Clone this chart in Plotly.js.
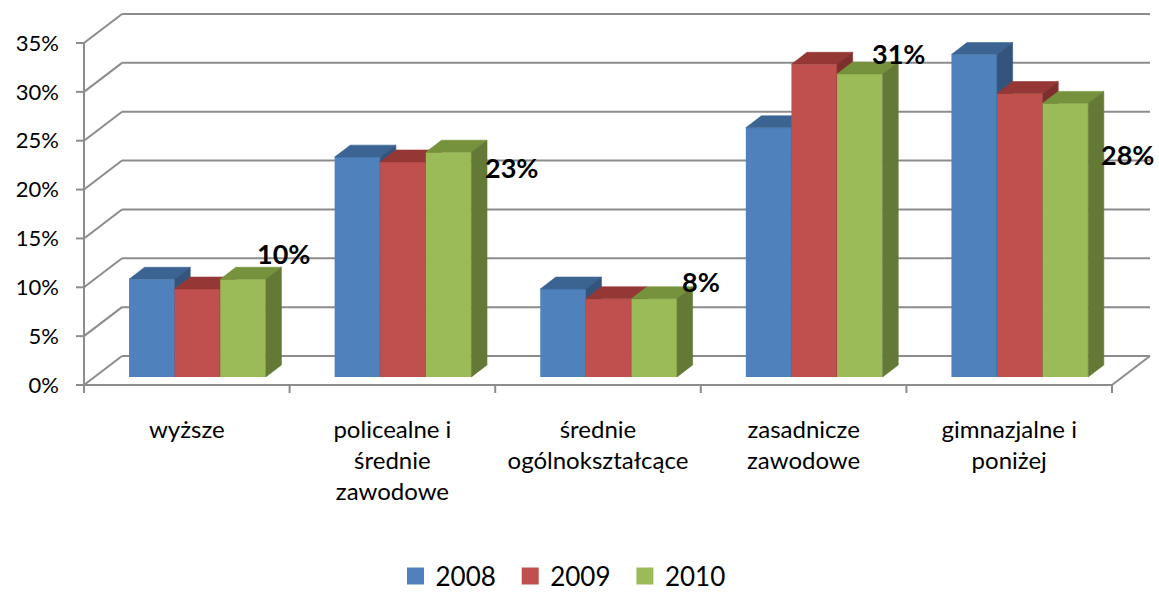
<!DOCTYPE html>
<html><head><meta charset="utf-8">
<script src="https://cdn.plot.ly/plotly-3.0.1.min.js"></script>
<style>html,body{margin:0;padding:0;background:#fff}</style>
</head><body><div id="chart" style="width:1159px;height:596px"></div>
<script>
// ---- data ----
const categories = ['wyższe', 'policealne i<br>średnie<br>zawodowe', 'średnie<br>ogólnokształcące', 'zasadnicze<br>zawodowe', 'gimnazjalne i<br>poniżej'];
const years = ['2008', '2009', '2010'];
const values2008 = [10, 22.5, 9, 25.5, 33];
const values2009 = [9, 22, 8, 32, 29];
const values2010 = [10, 23, 8, 31, 28];
const yTicks = [0, 5, 10, 15, 20, 25, 30, 35];

// ---- label placement (px offsets from the top back corner of the 2010 bar) ----
const labelDx = [2, 24, 8, 0, 24];
const labelDy = [14, -27, 5, 9, -63];

// ---- styles ----
const frontColors = ['#4F81BD', '#C0504D', '#9BBB59'];
const topColors = ['#3C6493', '#953735', '#76923C'];
const sideColors = ['#34547D', '#7E2F2D', '#657936'];
const gridColor = '#8C8C8C';
const FONT = 'Lato, "Open Sans", sans-serif';

// ---- geometry (px) ----
const W = 1159, H = 596;
const frontLeft = 84, frontRight = 1112, frontBottom = 385, front35 = 43;
const depthPx = [38, 29];
const ux = (frontRight - frontLeft) / categories.length;   // px per category unit
const uy = (frontBottom - front35) / 35;                   // px per percent
const DX = depthPx[0] / ux, DY = depthPx[1] / uy;
const barFrac0 = 0.28, barFracD = 0.41;
const fx = barFrac0 * DX, fy = barFrac0 * DY;
const bdx = barFracD * DX, bdy = barFracD * DY;
const barW = 45.6 / ux;
const padL = 10, padB = 10, padT = 3, padR = 3;
const xMin = -0.5, xMax = categories.length - 0.5;
const xr = [xMin - padL / ux, xMax + DX + padR / ux];
const yTop = yTicks[yTicks.length - 1];
const yr = [-padB / uy, yTop + DY + padT / uy];
const mL = frontLeft - padL;
const mR = W - (frontRight + depthPx[0] + padR);
const mB = H - (frontBottom + padB);
const mT = (frontBottom - yTop * uy - depthPx[1]) - padT;

const series = [values2008, values2009, values2010];
const traces = [];
series.forEach((vals, s) => {
  const xa = s === 0 ? 'x' : 'x' + (s + 1);
  const ya = s === 0 ? 'y' : 'y' + (s + 1);
  const xs = vals.map((v, i) => i + fx + (s - 1) * barW);
  traces.push({type: 'bar', x: xs, y: vals, base: fy, width: barW,
    marker: {color: frontColors[s], line: {width: 0}}, showlegend: false,
    hoverinfo: 'skip', xaxis: xa, yaxis: ya});
  const tx = [], ty = [], sx = [], sy = [];
  vals.forEach((v, i) => {
    const xl = xs[i] - barW / 2, xrr = xs[i] + barW / 2, T = fy + v, B = fy;
    tx.push(xl, xrr, xrr + bdx, xl + bdx, xl, null);
    ty.push(T, T, T + bdy, T + bdy, T, null);
    sx.push(xrr, xrr + bdx, xrr + bdx, xrr, xrr, null);
    sy.push(B, B + bdy, T + bdy, T, B, null);
  });
  traces.push({type: 'scatter', mode: 'lines', x: tx, y: ty, fill: 'toself',
    fillcolor: topColors[s], line: {width: 0.6, color: topColors[s]},
    showlegend: false, hoverinfo: 'skip', xaxis: xa, yaxis: ya});
  traces.push({type: 'scatter', mode: 'lines', x: sx, y: sy, fill: 'toself',
    fillcolor: sideColors[s], line: {width: 0.6, color: sideColors[s]},
    showlegend: false, hoverinfo: 'skip', xaxis: xa, yaxis: ya});
});
// legend entries
years.forEach((yName, s) => {
  traces.push({type: 'bar', x: [null], y: [null], name: yName,
    marker: {color: frontColors[s], line: {color: frontColors[s], width: 5}},
    hoverinfo: 'skip'});
});

// back wall / floor / axes as shapes
const shapes = [];
const ln = (x0, y0, x1, y1) => ({type: 'line', xref: 'x', yref: 'y', x0, y0, x1, y1,
  layer: 'below', line: {color: gridColor, width: 2}});
yTicks.forEach(v => {
  shapes.push(ln(xMin, v, xMin + DX, v + DY));
  shapes.push(ln(xMin + DX, v + DY, xMax + DX, v + DY));
  shapes.push(ln(xMin - 8 / ux, v, xMin, v));
});
shapes.push(ln(xMax, 0, xMax + DX, DY));
shapes.push(ln(xMin, 0, xMin, yTop));
shapes.push(ln(xMin, 0, xMax, 0));
for (let k = 0; k <= categories.length; k++) {
  shapes.push(ln(xMin + k, 0, xMin + k, -8 / uy));
}

// data labels on 2010 bars
const annotations = values2010.map((v, i) => ({
  xref: 'x', yref: 'y',
  x: i + fx + barW * 1.5 + bdx, y: fy + v + bdy,
  xshift: labelDx[i], yshift: labelDy[i],
  text: '<b>' + v + '%</b>', showarrow: false,
  xanchor: 'center', yanchor: 'middle',
  font: {family: FONT, size: 27, color: '#000'}
}));

const layout = {
  width: W, height: H, autosize: false,
  margin: {l: mL, r: mR, t: mT, b: mB, pad: 0, autoexpand: false},
  paper_bgcolor: '#fff', plot_bgcolor: 'rgba(0,0,0,0)',
  barmode: 'overlay',
  showlegend: true,
  legend: {orientation: 'h', xref: 'container', yref: 'container',
    xanchor: 'left', yanchor: 'middle',
    x: 395.5 / W, y: 1 - 576 / H,
    entrywidth: 69.7, font: {family: FONT, size: 26, color: '#000'},
    itemclick: false, itemdoubleclick: false, bgcolor: 'rgba(0,0,0,0)'},
  xaxis: {range: xr, tickmode: 'array', tickvals: categories.map((c, i) => i), ticktext: categories,
    ticks: '', showgrid: false, zeroline: false, showline: false, fixedrange: true, automargin: false,
    tickfont: {family: FONT, size: 24, color: '#000'}, ticklabelstandoff: 18, tickangle: 0},
  yaxis: {range: yr, tickmode: 'array', tickvals: yTicks, ticktext: yTicks.map(v => v + '%'),
    ticks: '', showgrid: false, zeroline: false, showline: false, fixedrange: true, automargin: false,
    tickfont: {family: FONT, size: 22, color: '#000'}, ticklabelstandoff: 14},
  xaxis2: {overlaying: 'x', range: xr, visible: false, fixedrange: true},
  yaxis2: {overlaying: 'y', range: yr, visible: false, fixedrange: true},
  xaxis3: {overlaying: 'x', range: xr, visible: false, fixedrange: true},
  yaxis3: {overlaying: 'y', range: yr, visible: false, fixedrange: true},
  shapes: shapes,
  annotations: annotations
};
Plotly.newPlot('chart', traces, layout, {displayModeBar: false, staticPlot: true});
</script>
</body></html>
